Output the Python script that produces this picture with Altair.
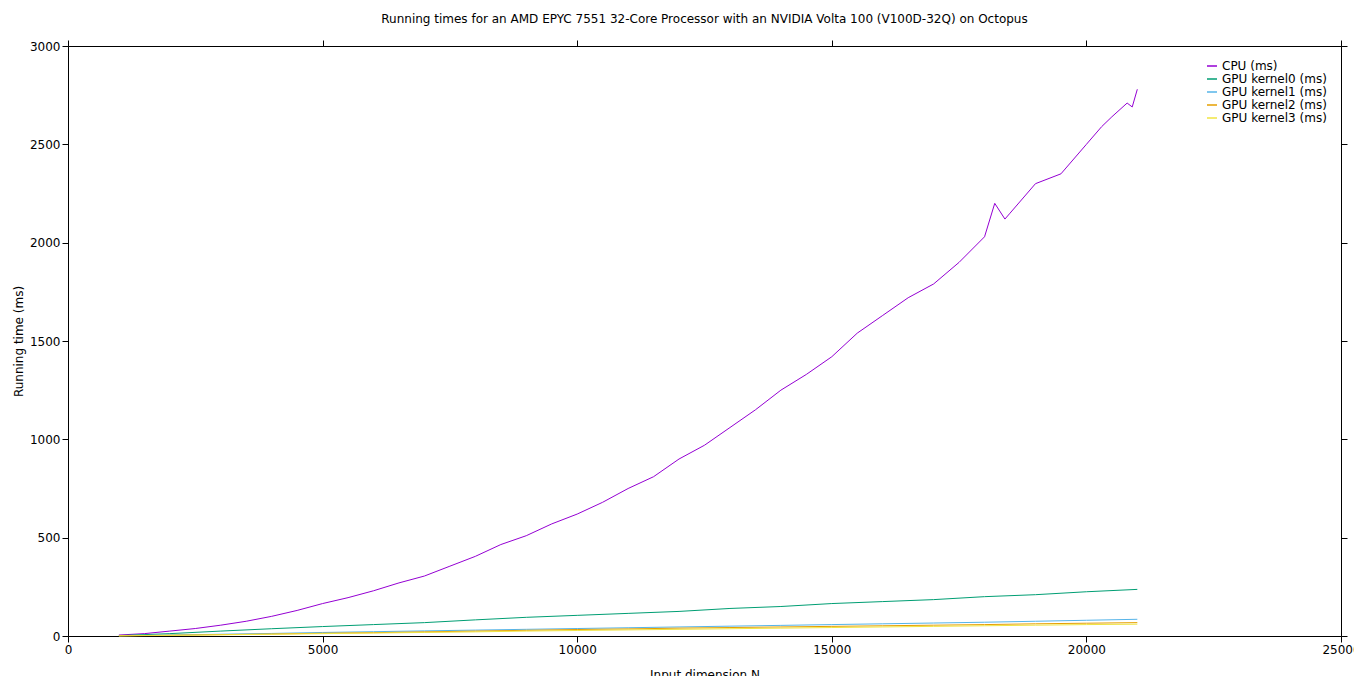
import altair as alt
import pandas as pd

cpu_n = [1000, 1500, 2000, 2500, 3000, 3500, 4000, 4500, 5000, 5500, 6000, 6500, 7000,
         7500, 8000, 8500, 9000, 9500, 10000, 10500, 11000, 11500, 12000, 12500, 13000,
         13500, 14000, 14500, 15000, 15500, 16000, 16500, 17000, 17500, 18000, 18200,
         18400, 18500, 19000, 19500, 20000, 20300, 20500, 20800, 20900, 21000]
cpu_ms = [5, 12, 25, 38, 55, 75, 100, 130, 165, 195, 230, 270, 305, 355, 405, 465, 510,
          570, 620, 680, 750, 810, 900, 970, 1060, 1150, 1250, 1330, 1420, 1540, 1630,
          1720, 1790, 1900, 2030, 2200, 2120, 2150, 2300, 2350, 2500, 2590, 2640, 2710,
          2690, 2780]

gpu_n = [1000, 2000, 3000, 4000, 5000, 6000, 7000, 8000, 9000, 10000, 11000, 12000,
         13000, 14000, 15000, 16000, 17000, 18000, 19000, 20000, 21000]
k0_ms = [2, 12, 25, 37, 48, 58, 68, 82, 95, 105, 115, 125, 140, 150, 165, 175, 185,
         200, 210, 225, 237]
k1_ms = [1, 5, 9, 13, 18, 22, 26, 30, 34, 38, 42, 46, 50, 54, 58, 62, 66, 70, 75, 80, 85]
k2_ms = [1, 4, 7, 10, 14, 17, 21, 25, 29, 33, 36, 40, 43, 46, 49, 52, 55, 58, 62, 65, 68]
k3_ms = [1, 3, 6, 9, 12, 15, 18, 21, 25, 28, 31, 34, 37, 40, 43, 46, 49, 52, 55, 58, 60]

series = ["CPU (ms)", "GPU kernel0 (ms)", "GPU kernel1 (ms)", "GPU kernel2 (ms)", "GPU kernel3 (ms)"]
colors = ["#9400d3", "#009e73", "#56b4e9", "#e69f00", "#f0e442"]

rows = [dict(n=n, t=t, s=series[0]) for n, t in zip(cpu_n, cpu_ms)]
for name, vals in zip(series[1:], [k0_ms, k1_ms, k2_ms, k3_ms]):
    rows += [dict(n=n, t=t, s=name) for n, t in zip(gpu_n, vals)]
df = pd.DataFrame(rows)

x_ticks = list(range(0, 25001, 5000))
y_ticks = list(range(0, 3001, 500))
xs = alt.Scale(domain=[0, 25000], nice=False)
ys = alt.Scale(domain=[0, 3000], nice=False)
ax = dict(grid=False, tickSize=6, domain=False, labelFontSize=12, format="d",
          tickColor="black", labelColor="black")

lines = alt.Chart(df).mark_line(strokeWidth=1).encode(
    x=alt.X("n:Q", scale=xs, title="Input dimension N",
            axis=alt.Axis(values=x_ticks, orient="bottom", labelFlush=False,
                          titlePadding=14, **ax)),
    y=alt.Y("t:Q", scale=ys, title="Running time (ms)",
            axis=alt.Axis(values=y_ticks, orient="left", **ax)),
    color=alt.Color("s:N", scale=alt.Scale(domain=series, range=colors), title=None,
                    legend=alt.Legend(orient="top-right", symbolType="stroke",
                                      labelFontSize=12, symbolStrokeWidth=1.5,
                                      rowPadding=1, offset=14)),
)

mirror = alt.Chart(df).mark_point(opacity=0).encode(
    x=alt.X("n:Q", scale=xs, axis=alt.Axis(values=x_ticks, orient="top",
                                            labels=False, title=None, **ax)),
    y=alt.Y("t:Q", scale=ys, axis=alt.Axis(values=y_ticks, orient="right",
                                            labels=False, title=None, **ax)),
)

chart = (lines + mirror).properties(
    width=1273, height=590,
    title="Running times for an AMD EPYC 7551 32-Core Processor with an NVIDIA Volta 100 (V100D-32Q) on Octopus",
    autosize=alt.AutoSizeParams(type="none"),
    padding={"left": 60, "top": 38, "right": 13, "bottom": 40},
).configure(font="DejaVu Sans").configure_view(
    stroke="black", strokeWidth=1
).configure_title(
    fontSize=12, fontWeight="normal", offset=14
).configure_axis(titleFontSize=12, titleFontWeight="normal")

chart.save("out.html", embed_options={"renderer": "svg", "actions": False})
